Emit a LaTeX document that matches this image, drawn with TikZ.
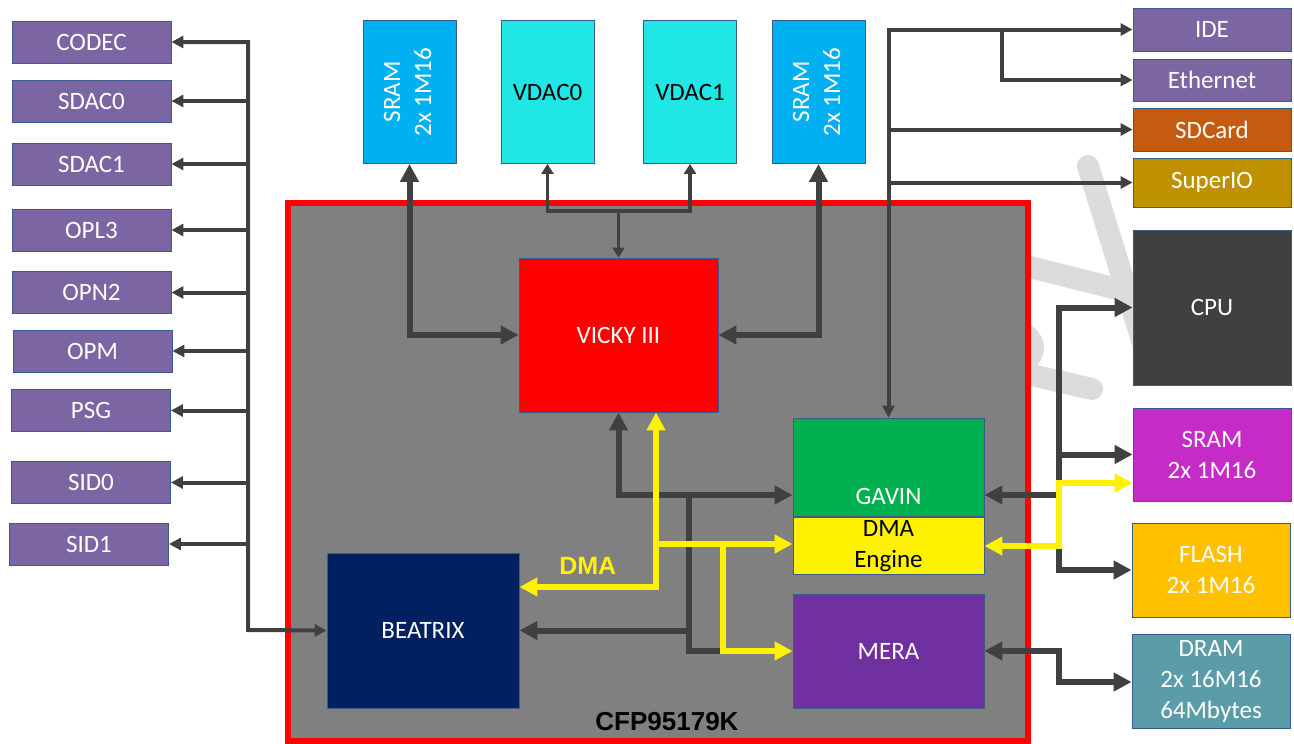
\documentclass[tikz,border=0pt]{standalone}
\usepackage{fontspec}
\setmainfont{Carlito}
\newfontfamily\headfont{Liberation Sans}
\usetikzlibrary{arrows.meta}

\definecolor{edge}{HTML}{3B5B8F}
\definecolor{ln}{HTML}{404040}
\definecolor{purp}{HTML}{7B66A3}
\definecolor{sramc}{HTML}{00B0F0}
\definecolor{vdacc}{HTML}{20E6E6}
\definecolor{chipc}{HTML}{808080}
\definecolor{gavc}{HTML}{00B050}
\definecolor{merac}{HTML}{7030A0}
\definecolor{beac}{HTML}{002060}
\definecolor{sdc}{HTML}{C55A11}
\definecolor{sioc}{HTML}{BF9000}
\definecolor{cpuc}{HTML}{404040}
\definecolor{magc}{HTML}{C72BC7}
\definecolor{flc}{HTML}{FFC000}
\definecolor{drc}{HTML}{5A9DA9}
\definecolor{wmc}{HTML}{DCDCDC}

\newcommand{\rot}[1]{\rotatebox{90}{\begin{tabular}{@{}c@{}}#1\end{tabular}}}

\begin{document}
\begin{tikzpicture}[x=1pt, y=-1pt,
	every node/.style={font=\fontsize{25}{31}\selectfont},
	b/.style={draw=edge, line width=0.9pt, inner sep=0pt, text=white, align=center},
	io/.style={b, fill=purp, minimum width=159, minimum height=42},
	vb/.style={b, minimum width=93, minimum height=143},
	rt/.style={b, minimum width=158},
	thn/.style={ln, line width=4pt, >={Triangle[length=12pt, width=12pt]}},
	vd/.style={ln, line width=3.5pt, >={Triangle[length=10pt, width=12pt]}},
	thk/.style={ln, line width=6pt, >={Triangle[length=18pt, width=18pt]}},
	ylw/.style={yellow, line width=6pt, >={Triangle[length=18pt, width=18pt]}},
	wm/.style={wmc, line width=22pt}]
	\useasboundingbox (0,0) rectangle (1294,744);
	% watermark, mostly hidden
	\draw[wm, line cap=round] (1088,166) -- (1145,350);
	\draw[wm] (1010,262) -- (1145,296);
	\draw[wm, line cap=round] (1010,370) -- (1092,389);
	\fill[wmc] (1010,316) .. controls (1050,326) and (1052,356) .. (1030,372) -- (1010,372) -- cycle;
	% chip
	\node[draw=red, line width=6pt, fill=chipc, minimum width=740, minimum height=538, inner sep=0pt] (chip) at (658,472) {};
	\node[font=\headfont\bfseries\fontsize{26}{30}\selectfont] (cfp) at (667,722) {CFP95179K};
	% left column
	\node[io] (codec) at (91.5,42) {CODEC};
	\node[io] (sdac0) at (91.5,101) {SDAC0};
	\node[io] (sdac1) at (91.5,164) {SDAC1};
	\node[io] (opl3) at (91.5,230) {OPL3};
	\node[io] (opn2) at (91.5,292.5) {OPN2};
	\node[io] (opm) at (92.5,351) {OPM};
	\node[io] (psg) at (91,410.5) {PSG};
	\node[io] (sid0) at (91,482.5) {SID0};
	\node[io] (sid1) at (89,544) {SID1};
	% top row
	\node[vb, fill=sramc] (sramL) at (409.5,92) {\rot{SRAM\\2x 1M16}};
	\node[vb, fill=vdacc, text=black] (vdac0) at (547.5,92) {VDAC0};
	\node[vb, fill=vdacc, text=black] (vdac1) at (690,92) {VDAC1};
	\node[vb, fill=sramc] (sramR) at (818.5,92) {\rot{SRAM\\2x 1M16}};
	% inside the chip
	\node[b, fill=red, minimum width=199, minimum height=154] (vicky) at (618.5,335) {VICKY III};
	\node[b, fill=gavc, minimum width=191, minimum height=98, text height=74pt, text depth=0pt] (gavin) at (888.5,467) {GAVIN};
	\node[b, fill=yellow, text=black, minimum width=191, minimum height=57] (dma) at (888.5,546) {DMA\\Engine};
	\node[b, fill=merac, minimum width=191, minimum height=114] (mera) at (888.5,651) {MERA};
	\node[b, fill=beac, minimum width=192, minimum height=155] (bea) at (423,630.5) {BEATRIX};
	% right column
	\node[rt, fill=purp, minimum height=43] (ide) at (1212,29.5) {IDE};
	\node[rt, fill=purp, minimum height=42] (eth) at (1212,80) {Ethernet};
	\node[rt, fill=sdc, minimum height=43] (sdcard) at (1212,129.5) {SDCard};
	\node[rt, fill=sioc, minimum height=49] (superio) at (1212,182.5) {SuperIO};
	\node[rt, fill=cpuc, minimum height=155] (cpu) at (1212,307.5) {CPU};
	\node[rt, fill=magc, minimum height=93] (sram2) at (1212,454.5) {SRAM\\2x 1M16};
	\node[rt, fill=flc, minimum height=94] (flash) at (1211,570) {FLASH\\2x 1M16};
	\node[rt, fill=drc, minimum height=94] (dram) at (1211,681) {DRAM\\2x 16M16\\64Mbytes};
	% audio bus
	\coordinate (lb) at (248,630);
	\draw[thn,<->] (codec.east) -| (lb) -- (bea.west);
	\draw[thn,->] (lb |- sdac0.east) -- (sdac0.east);
	\draw[thn,->] (lb |- sdac1.east) -- (sdac1.east);
	\draw[thn,->] (lb |- opl3.east) -- (opl3.east);
	\draw[thn,->] (lb |- opn2.east) -- (opn2.east);
	\draw[thn,->] (lb |- opm.east) -- (opm.east);
	\draw[thn,->] (lb |- psg.east) -- (psg.east);
	\draw[thn,->] (lb |- sid0.east) -- (sid0.east);
	\draw[thn,->] (lb |- sid1.east) -- (sid1.east);
	% video
	\draw[thk,<->] (sramL.south) |- (vicky.west);
	\draw[thk,<->] (sramR.south) |- (vicky.east);
	\coordinate (vj) at (618.5,211);
	\draw[vd,<->] (vdac0.south) |- (vj) -| (vdac1.south);
	\draw[vd,->] (vj) -- (vicky.north);
	% peripherals
	\draw[thn,<->] (ide.west) -| (gavin.north);
	\coordinate (eb) at (1002,29.5);
	\draw[thn,->] (eb) |- (eth.west);
	\draw[thn,->] (gavin.north |- sdcard.west) -- (sdcard.west);
	\draw[thn,->] (gavin.north |- superio.west) -- (superio.west);
	% internal bus
	\coordinate (dk) at (689,495);
	\coordinate (yv) at (656,544);
	\coordinate (yd) at (656,587);
	\coordinate (yb) at (723,544);
	\draw[thk,<->] (vicky.south) |- (dk) -- (dk -| gavin.west);
	\draw[thk] (dk) |- (yb |- mera.west);
	\draw[thk,->] (dk |- bea.east) -- (bea.east);
	% cpu side
	\coordinate (rb) at (1059,495);
	\draw[thk,->] (rb) -- (rb -| gavin.east);
	\draw[thk,->] (rb) |- (cpu.west);
	\draw[thk,->] (rb) |- (flash.west);
	\draw[thk,->] (rb |- sram2.west) -- (sram2.west);
	\coordinate (md) at (1059,682);
	\draw[thk,<->] (mera.east) -| (md) -- (md -| dram.west);
	% dma paths
	\draw[ylw,<->] (yv |- vicky.south) -- (yd) -- (yd -| bea.east) node[midway, above=6pt, text=yellow, font=\headfont\bfseries\fontsize{25}{30}\selectfont] {DMA};
	\draw[ylw,->] (yv) -- (yv -| dma.west);
	\draw[ylw,->] (yb) |- (mera.west);
	\coordinate (ry) at (1059,483);
	\draw[ylw,<->] (dma.east) -| (ry) -- (ry -| sram2.west);
\end{tikzpicture}
\end{document}
